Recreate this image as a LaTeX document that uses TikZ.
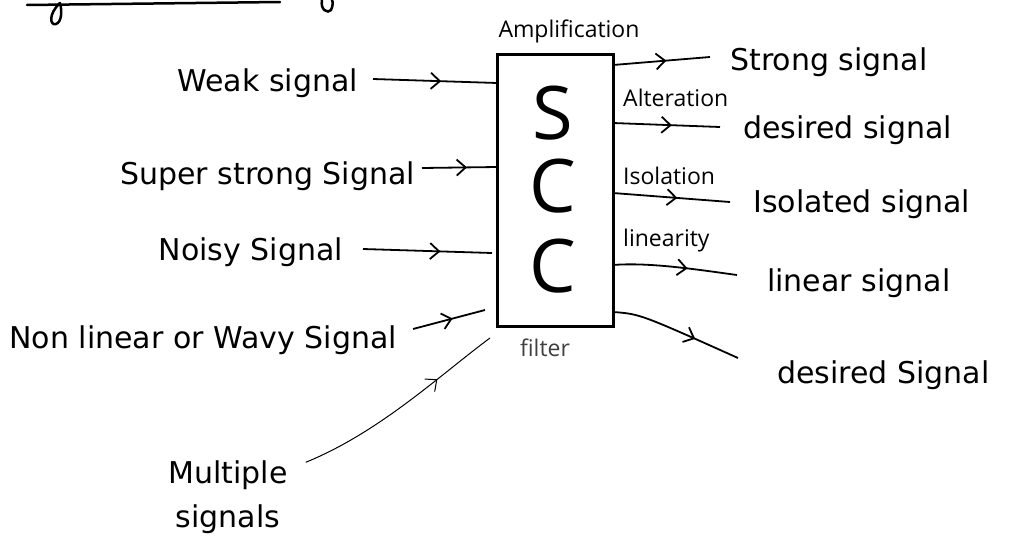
\documentclass[tikz,border=0pt]{standalone}
\usepackage{fontspec}
\setmainfont{Open Sans}
\newfontfamily\handfont{DejaVu Sans}
\usetikzlibrary{arrows.meta,decorations.markings,calc}
\tikzset{
  lbl/.style={font=\handfont\fontsize{30}{44}\selectfont, inner sep=0pt},
  small/.style={font=\fontsize{23}{24}\selectfont, inner sep=0pt},
  big/.style={font=\fontsize{74}{74}\selectfont, inner sep=0pt},
  sig/.style={line width=1.8pt, postaction={decorate},
    decoration={markings, mark=at position #1 with {\arrow{Straight Barb[length=9pt,width=16pt]}}}},
  sig/.default=0.55,
  blockbox/.style={draw, line width=3pt, minimum width=116pt, minimum height=272pt, inner sep=0pt},
  ink/.style={line width=2.5pt, line cap=round},
}
\begin{document}
\begin{tikzpicture}[x=1pt,y=-1pt]
\useasboundingbox (0,0) rectangle (1010,549);
% partial heading underline (cut off at top)
\draw[ink] (27,5) -- (280,2);
\draw[ink] (60,3) .. controls (48,14) and (50,26) .. (56,24) .. controls (62,22) and (62,10) .. (60,3);
\draw[ink] (322,0) .. controls (320,10) and (328,14) .. (331,10) .. controls (333,6) and (333,2) .. (332,0);

% block
\node[blockbox] (scc) at (555,190) {};
\node[big] (S) at (553,113) {S};
\node[big] (C1) at (553,186) {C};
\node[big] (C2) at (553,266) {C};

% inputs
\node[lbl, anchor=east] (weak) at (358,83) {Weak signal};
\node[lbl, anchor=east] (super) at (415,176) {Super strong Signal};
\node[lbl, anchor=east] (noisy) at (343,252) {Noisy Signal};
\node[lbl, anchor=east] (wavy) at (397,340) {Non linear or Wavy Signal};
\node[lbl, align=center] (multi) at (228,497) {Multiple\\signals};

\coordinate (i1) at (497,83);
\coordinate (i2) at (497,167);
\coordinate (i3) at (492,253);
\coordinate (i4) at (485,310);
\coordinate (i5) at (490,338);

\draw[sig] (weak.east) ++(15,-4) -- (i1);
\draw[sig=0.6] (super.east) ++(7,-8) -- (i2);
\draw[sig=0.6] (noisy.east) ++(20,-3) -- (i3);
\draw[sig=0.55] (wavy.east) ++(16,-11) -- (i4);
\draw[sig=0.7, line width=1pt] (multi.north east) ++(18,2) .. controls (380,432) and (440,375) .. (i5);

% outputs
\node[small] (amp) at (569,31) {Amplification};
\node[small, anchor=west] (alt) at (623,98) {Alteration};
\node[small, anchor=west] (iso) at (623,176) {Isolation};
\node[small, anchor=west] (lin) at (623,241) {linearity};
\node[small, text=black!75] (filt) at (545,348) {filter};

\node[lbl, anchor=west] (strong) at (730,62) {Strong signal};
\node[lbl, anchor=west] (des1) at (743,130) {desired signal};
\node[lbl, anchor=west] (isol) at (753,204) {Isolated signal};
\node[lbl, anchor=west] (linear) at (767,283) {linear signal};
\node[lbl, anchor=west] (des2) at (777,375) {desired Signal};

\coordinate (o1) at (613,65);
\coordinate (o2) at (613,123);
\coordinate (o3) at (613,193);
\coordinate (o4) at (613,265);
\coordinate (o5) at (613,312);

\draw[sig=0.55] (o1) -- ($(strong.west)+(-20,-5)$);
\draw[sig=0.55] (o2) -- ($(des1.west)+(-23,-3)$);
\draw[sig=0.55] (o3) -- ($(isol.west)+(-23,-2)$);
\draw[sig=0.6] (o4) .. controls (650,262) and (700,270) .. ($(linear.west)+(-30,-8)$);
\draw[sig=0.65] (o5) .. controls (640,314) .. ($(des2.west)+(-39,-17)$);
\end{tikzpicture}
\end{document}
